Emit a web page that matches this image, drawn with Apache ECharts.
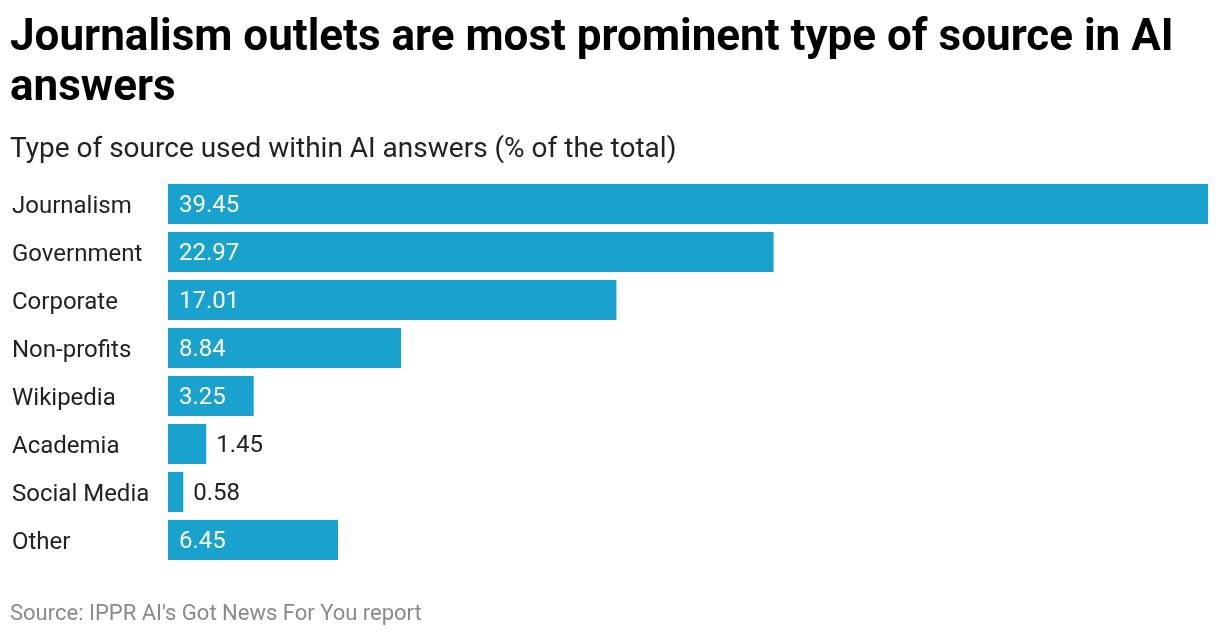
<!DOCTYPE html>
<html>
<head>
<meta charset="utf-8">
<script src="https://cdn.jsdelivr.net/npm/echarts@6/dist/echarts.min.js"></script>
<style>
html,body{margin:0;padding:0;background:#fff;}
#c{width:1220px;height:636px;}
</style>
</head>
<body>
<div id="c"></div>
<script>
const categories = ["Journalism","Government","Corporate","Non-profits","Wikipedia","Academia","Social Media","Other"];
const values = [39.45,22.97,17.01,8.84,3.25,1.45,0.58,6.45];

const chart = echarts.init(document.getElementById('c'));
const data = values.map(v => {
  const inside = v >= 3;
  return {
    value: v,
    label: inside
      ? {position: 'insideLeft', distance: 11, color: '#ffffff'}
      : {position: 'right', distance: 10, color: '#222222'}
  };
});
chart.setOption({
  animation: false,
  textStyle: {fontFamily: 'Roboto'},
  title: [{
    text: 'Journalism outlets are most prominent type of source in AI\nanswers',
    left: 10, top: 14, padding: 0,
    textStyle: {fontFamily: 'Roboto', fontWeight: 'bold', fontSize: 44, lineHeight: 50, color: '#000'}
  },{
    text: 'Type of source used within AI answers (% of the total)',
    left: 10, top: 136, padding: 0,
    textStyle: {fontFamily: 'Roboto', fontWeight: 'normal', fontSize: 28, color: '#222'}
  },{
    text: 'Source: IPPR AI\'s Got News For You report',
    left: 10, top: 603, padding: 0,
    textStyle: {fontFamily: 'Roboto', fontWeight: 'normal', fontSize: 22, color: '#8a8a8a'}
  }],
  grid: {left: 168, right: 12, top: 180, bottom: 72, containLabel: false},
  xAxis: {type: 'value', min: 0, max: 39.45, show: false},
  yAxis: {
    type: 'category', data: categories, inverse: true,
    axisLine: {show: false}, axisTick: {show: false},
    axisLabel: {
      align: 'left', margin: 156, fontSize: 24, color: '#222', fontFamily: 'Roboto',
      formatter: v => '{a|' + v + '}',
      rich: {a: {fontSize: 24, color: '#222', fontFamily: 'Roboto', padding: [5, 0, 0, 0]}}
    }
  },
  series: [{
    type: 'bar', data: data, barCategoryGap: '16.67%',
    itemStyle: {color: '#18a2cd'},
    label: {show: true, fontSize: 24, fontFamily: 'Roboto', offset: [0, 2], formatter: p => p.value.toFixed(2)}
  }]
});
</script>
</body>
</html>
